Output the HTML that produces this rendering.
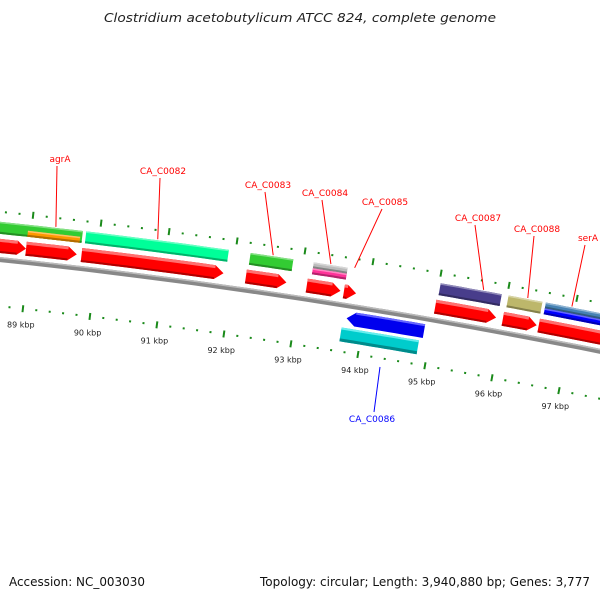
<!DOCTYPE html>
<html><head><meta charset="utf-8">
<style>
html,body{margin:0;padding:0;background:#fff;}
svg{display:block;font-family:"DejaVu Sans","Liberation Sans",sans-serif;}
</style></head>
<body>
<svg id="map" width="600" height="600" viewBox="0 0 600 600">
<text x="104" y="22" textLength="392" lengthAdjust="spacingAndGlyphs" font-size="12" font-style="italic" fill="#222">Clostridium acetobutylicum ATCC 824, complete genome</text>
<g id="layer"></g>
<text x="9" y="586" textLength="136" lengthAdjust="spacingAndGlyphs" font-size="12" fill="#111">Accession: NC_003030</text>
<text x="260" y="586" textLength="330" lengthAdjust="spacingAndGlyphs" font-size="12" fill="#111">Topology: circular; Length: 3,940,880 bp; Genes: 3,777</text>
</svg>
<script>
// forward CDS (kbp)
const cdsStart = [88.3, 88.95, 89.77, 92.2, 93.1, 93.65, 95.0, 96.0, 96.53];
const cdsEnd   = [88.95, 89.7, 91.87, 92.8, 93.6, 93.83, 95.9, 96.5, 97.7];
// forward gene features (kbp)
const featStart = [88.3, 88.95, 89.8, 92.22, 93.15, 93.15, 95.02, 96.02, 96.57, 96.57];
const featEnd   = [89.75, 89.72, 91.9, 92.85, 93.65, 93.65, 95.92, 96.52, 97.7, 97.7];
const featColor = ["#33cc33","#ff9900","#00ff99","#33cc33","#bbbbbb","#ff3399","#483d8b","#bdb76b","#4682b4","#0000ff"];
const featHalf  = ["full","bottom","full","full","top","bottom","full","full","top","bottom"];
// gene labels
const labelText = ["agrA","CA_C0082","CA_C0083","CA_C0084","CA_C0085","CA_C0087","CA_C0088","serA"];
const labelKbp  = [89.35, 90.85, 92.55, 93.4, 93.75, 95.65, 96.3, 96.95];
const labelX    = [60, 163, 268, 325, 385, 478, 537, 588];
const labelY    = [162, 174, 188, 196, 205, 221, 232, 241];
// ticks
const tickFrom = 88.2, tickTo = 97.9;
const kbpLabels = [89, 90, 91, 92, 93, 94, 95, 96, 97];

const NS = "http://www.w3.org/2000/svg";
const layer = document.getElementById("layer");
function xb(k){return 28 + (k-89)*67.5;}
function yb(x){return 259 + 0.105*x + 0.00008*x*x;}
function P(k,d){const x0=xb(k);const m=0.105+0.00016*x0;const n=Math.sqrt(1+m*m);return [x0-m*d/n, yb(x0)+d/n];}
function mk(tag,attrs){const e=document.createElementNS(NS,tag);for(const a in attrs)e.setAttribute(a,attrs[a]);layer.appendChild(e);return e;}
function band(k0,k1,d0,d1){let pts=[];const N=12;for(let i=0;i<=N;i++)pts.push(P(k0+(k1-k0)*i/N,d0));for(let i=N;i>=0;i--)pts.push(P(k0+(k1-k0)*i/N,d1));return pts.map(p=>p[0].toFixed(1)+","+p[1].toFixed(1)).join(" ");}
function arrow(k0,k1,d0,d1,dir){const h=0.13;let pts=[];const N=10;
 if(dir>0){const kb=Math.max(k0,k1-h);for(let i=0;i<=N;i++)pts.push(P(k0+(kb-k0)*i/N,d0));pts.push(P(k1,(d0+d1)/2));for(let i=N;i>=0;i--)pts.push(P(k0+(kb-k0)*i/N,d1));}
 else{const kb=Math.min(k1,k0+h);pts.push(P(k0,(d0+d1)/2));for(let i=0;i<=N;i++)pts.push(P(kb+(k1-kb)*i/N,d0));for(let i=N;i>=0;i--)pts.push(P(kb+(k1-kb)*i/N,d1));}
 return pts.map(p=>p[0].toFixed(1)+","+p[1].toFixed(1)).join(" ");}
function shade(c,f){const n=parseInt(c.slice(1),16);let r=n>>16,g=(n>>8)&255,b=n&255;const t=v=>Math.max(0,Math.min(255,Math.round(f<1?v*f:v+(255-v)*(f-1))));return "rgb("+t(r)+","+t(g)+","+t(b)+")";}

// backbone
let bb=mk("polygon",{points:band(88.2,98,-2,3),fill:"#888"});


mk("polygon",{points:band(88.2,98,-2,-0.5),fill:"#bbb"});

// ticks
for(let i=0;;i++){const k=+(tickFrom+i*0.2).toFixed(1);if(k>tickTo)break;
 const major=Math.abs(k-Math.round(k))<0.01;
 [-47,47].forEach(d=>{const a=P(k,d-(major?3.5:1)),b=P(k,d+(major?3.5:1));
  const t=mk("line",{x1:a[0],y1:a[1],x2:b[0],y2:b[1],stroke:"#1a8a1a","stroke-width":2});
  
  });}
kbpLabels.forEach(k=>{const p=P(k,66);const t=mk("text",{x:p[0].toFixed(1),y:p[1].toFixed(1),"font-size":8,"text-anchor":"middle",fill:"#222"});t.textContent=k+" kbp";
 
 });

// features
featStart.forEach((s,i)=>{const e=featEnd[i];let d0=-37,d1=-25;
 if(featHalf[i]==="top")d1=-31;if(featHalf[i]==="bottom")d0=-31;
 const c=featColor[i];
 const g=mk("polygon",{points:band(s,e,d0,d1),fill:c});
 
 
 mk("polygon",{points:band(s,e,d0,d0+1.5),fill:shade(c,1.4)});
 mk("polygon",{points:band(s,e,d1-2,d1),fill:shade(c,0.7)});});

// CDS
cdsStart.forEach((s,i)=>{const e=cdsEnd[i];
 const a=mk("polygon",{points:arrow(s,e,-20,-6,1),fill:"#ff0000"});
 
 
 mk("polygon",{points:band(s,Math.max(s,e-0.13),-20,-17),fill:"#ff7070"});
 mk("polygon",{points:band(s,Math.max(s,e-0.13),-8,-6),fill:"#b00000"});});

// reverse genes
let rv=mk("polygon",{points:arrow(93.75,94.9,6,20,-1),fill:"#0000ee"});


mk("polygon",{points:band(93.88,94.9,6,8),fill:"#6666ff"});
let cy=mk("polygon",{points:band(93.7,94.85,23,37),fill:"#00cccc"});


mk("polygon",{points:band(93.7,94.85,23,25),fill:"#66eeee"});
mk("polygon",{points:band(93.7,94.85,34,37),fill:"#008b8b"});

// labels
labelText.forEach((t,i)=>{const p=P(labelKbp[i],-38);
 const l=mk("line",{x1:labelX[i]-3,y1:labelY[i]+4,x2:p[0],y2:p[1],stroke:"#ff0000","stroke-width":1});
 
 
 const tx=mk("text",{x:labelX[i],y:labelY[i],"font-size":9,"text-anchor":"middle",fill:"#ff0000"});tx.textContent=t;
 
 });
const bl=mk("line",{x1:380,y1:367,x2:374,y2:412,stroke:"#0000ff","stroke-width":1});


const bt=mk("text",{x:372,y:422,"font-size":9,"text-anchor":"middle",fill:"#0000ff"});bt.textContent="CA_C0086";


</script>
</body></html>
